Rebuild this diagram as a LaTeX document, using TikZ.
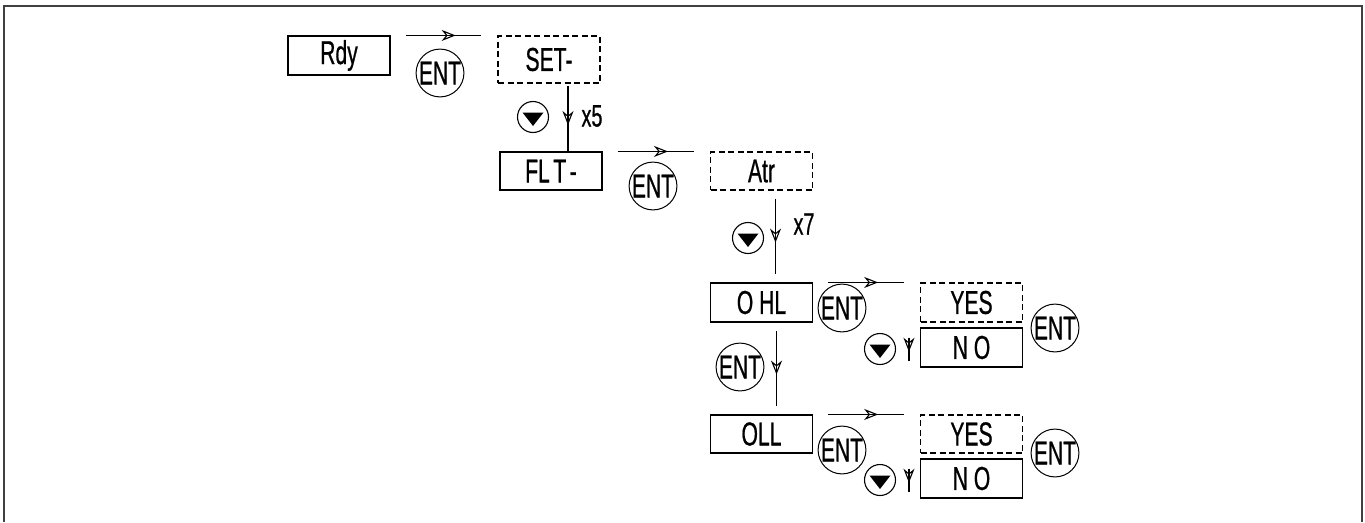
\documentclass[tikz,border=0pt]{standalone}
\usepackage{fontspec}
\setmainfont{Liberation Sans}
\newfontfamily\diagfont[FakeBold=0.9]{Liberation Sans}
\usetikzlibrary{arrows.meta,decorations.markings,calc}
\newcommand{\cond}[1]{\scalebox{0.64}[1]{#1}}
\begin{document}
\begin{tikzpicture}[x=1pt,y=-1pt,
  box/.style={draw, line width=1.1pt, minimum width=102pt, minimum height=39pt, inner sep=0pt,
    font=\diagfont\fontsize{33}{33}\selectfont},
  dbox/.style={box, dash pattern=on 6pt off 3.5pt},
  entc/.style={draw, circle, minimum size=47pt, inner sep=0pt, line width=1pt,
    font=\diagfont\fontsize{33}{33}\selectfont},
  dnc/.style={draw, circle, minimum size=31pt, inner sep=0pt, line width=1.1pt},
  lab/.style={inner sep=0pt, font=\diagfont\fontsize{31}{31}\selectfont},
  flow/.style={line width=1.1pt, postaction={decorate},
    decoration={markings, mark=at position #1 with {\arrow{Stealth[open,length=14pt,width=11pt,inset=4.5pt,line width=1.1pt]}}}},
  flow/.default=0.66]
\useasboundingbox (0,0) rectangle (1365,522);
% frame
\draw[line width=2.2pt, black!75] (4,522) -- (4,6) -- (1362,6) -- (1362,522);
% boxes
\node[box] (rdy) at (339,55.5) {\cond{Rdy}};
\node[dbox, minimum height=47pt] (set) at (549,59.5) {\cond{SET-}};
\node[box, minimum height=38pt] (flt) at (551,171) {\cond{FL\,T\,-}};
\node[dbox, minimum height=38pt] (atr) at (761.5,171) {\cond{Atr}};
\node[box] (ohl) at (761.5,302.5) {\cond{O HL}};
\node[dbox] (yes1) at (971.5,302.5) {\cond{YES}};
\node[box] (no1) at (971.5,347.5) {\cond{N O}};
\node[box, minimum height=38pt] (oll) at (761.5,434) {\cond{OLL}};
\node[dbox, minimum height=38pt] (yes2) at (971.5,434) {\cond{YES}};
\node[box] (no2) at (971.5,478.5) {\cond{N O}};
% ENT buttons
\node[entc] (e1) at (440,73) {\cond{ENT}};
\node[entc] (e2) at (653,186) {\cond{ENT}};
\node[entc] (e3) at (740,367) {\cond{ENT}};
\node[entc] (e4) at (842,308) {\cond{ENT}};
\node[entc] (e5) at (1055,328) {\cond{ENT}};
\node[entc] (e6) at (842,450) {\cond{ENT}};
\node[entc] (e7) at (1055,453) {\cond{ENT}};
% down buttons
\node[dnc] (d1) at (533,117) {};
\node[dnc] (d2) at (748,238) {};
\node[dnc] (d3) at (880,349) {};
\node[dnc] (d4) at (880,480) {};
\foreach \d in {d1,d2,d3,d4}{
  \fill ($(\d)+(-10.5,-4.5)$) -- ($(\d)+(10.5,-4.5)$) -- ($(\d)+(0,9)$) -- cycle;
}
% labels
\node[lab] (x5) at (592,116) {\cond{x5}};
\node[lab] (x7) at (804,224) {\cond{x7}};
% horizontal connectors
\draw[flow] ($(rdy.north east)+(15,0)$) -- ($(set.north west)+(-16,0)$);
\draw[flow] ($(flt.north east)+(15,0)$) -- ($(atr.north west)+(-16,0)$);
\draw[flow] ($(ohl.north east)+(15,0)$) -- ($(yes1.north west)+(-16,0)$);
\draw[flow] ($(oll.north east)+(15,0)$) -- ($(yes2.north west)+(-16,0)$);
% vertical connectors
\draw[flow=0.6] ($(set.south)+(19,2)$) -- ($(flt.north)+(17,0)$);
\draw[flow=0.58] ($(atr.south)+(14,8)$) -- ($(ohl.north)+(14,-8)$);
\draw[flow=0.58] ($(ohl.south)+(15,8)$) -- ($(oll.north)+(15,-8)$);
\draw[flow=0.62] ($(no1.west)+(-11,-10)$) -- ($(no1.west)+(-11,13)$);
\draw[flow=0.62] ($(no2.west)+(-11,-10)$) -- ($(no2.west)+(-11,13)$);
\end{tikzpicture}
\end{document}
